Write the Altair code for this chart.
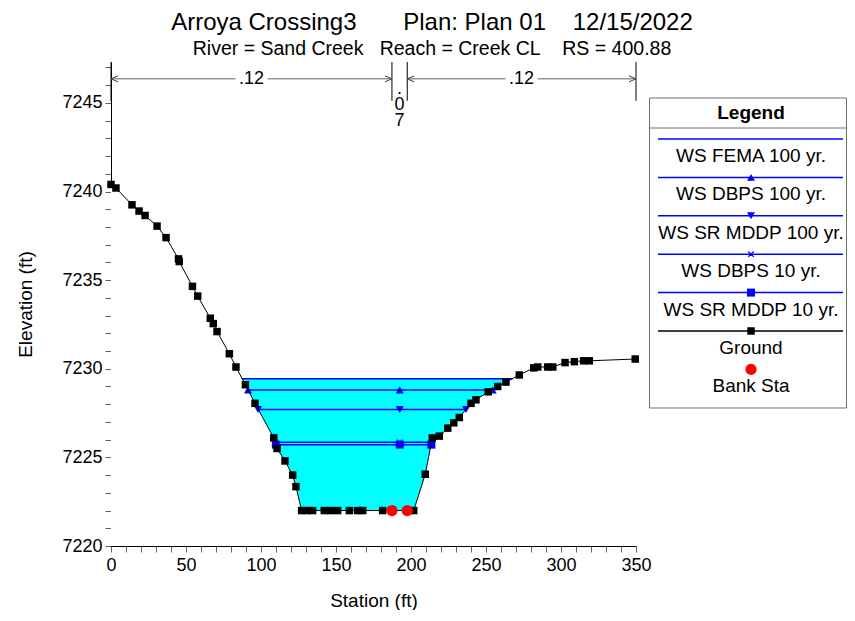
import altair as alt
import pandas as pd

FONT = "Liberation Sans"
NB = "\u00a0"

# ---------------- text ----------------
title_text = "Arroya Crossing3" + NB * 7 + "Plan: Plan 01" + NB * 4 + "12/15/2022"
subtitle_text = "River = Sand Creek" + NB * 3 + "Reach = Creek CL" + NB * 4 + "RS = 400.88"

# ---------------- data ----------------
ground_sta = [0, 3.3, 14.0, 18.7, 22.7, 30.7, 36.7, 45.0, 45.5, 54.3, 57.8, 66.2, 68.2, 70.7,
              78.9, 83.3, 89.6, 96.0, 108.5, 110.7, 116.0, 121.1, 123.3,
              127.1, 130.7, 134.4, 142.2, 146.7, 151.1, 158.9, 164.4, 167.8, 181.1, 187.3, 197.5, 201.8,
              209.5, 214.2, 218.9, 224.5, 228.5, 232.2, 240.0, 243.3, 251.5, 257.8, 263.3, 272.2,
              281.8, 284.5, 291.1, 294.5, 302.7, 308.9, 315.1, 318.9, 349.5]
ground_elev = [7240.4, 7240.2, 7239.25, 7238.9, 7238.65, 7238.05, 7237.4, 7236.2, 7236.05, 7234.65,
               7234.1, 7232.85, 7232.55, 7232.1, 7230.85, 7230.1, 7229.1, 7228.05, 7226.1, 7225.5,
               7224.8, 7224.0, 7223.35,
               7222.0, 7222.0, 7222.0, 7222.0, 7222.0, 7222.0, 7222.0, 7222.0, 7222.0, 7222.0, 7222.0,
               7222.0, 7222.0,
               7224.05, 7226.1, 7226.2, 7226.65, 7226.95, 7227.25, 7228.05, 7228.25, 7228.7, 7229.0,
               7229.25, 7229.65, 7230.05, 7230.1, 7230.1, 7230.1, 7230.35, 7230.4, 7230.45, 7230.45,
               7230.55]

bank_sta = [187.3, 197.5]
bank_elev = [7222.0, 7222.0]

ws_names = ["WS FEMA 100 yr.", "WS DBPS 100 yr.", "WS SR MDDP 100 yr.", "WS DBPS 10 yr.", "WS SR MDDP 10 yr."]
ws_elev = [7229.44, 7228.80, 7227.70, 7225.85, 7225.72]
ws_left = [87.3, 91.3, 98.0, 109.4, 109.9]
ws_right = [267.8, 254.5, 236.7, 213.8, 213.6]
ws_mid = 192.5
ws_marker = ["none", "triangle-up", "triangle-down", "x", "square"]

n_values = [".12", ".07", ".12"]
n_left = [0, 187.3, 197.5]
n_right = [187.3, 197.5, 350]

legend_names = ws_names + ["Ground", "Bank Sta"]
legend_marker = ws_marker + ["gsquare", "circle"]
legend_color = ["#0000FF"] * 5 + ["#000000", "#FF0000"]
legend_line = [True] * 6 + [False]

# ---------------- tables ----------------
ground_df = pd.DataFrame({"sta": ground_sta, "elev": ground_elev})
bank_df = pd.DataFrame({"sta": bank_sta, "elev": bank_elev})
ws_df = pd.DataFrame({"name": ws_names, "elev": ws_elev, "left": ws_left, "right": ws_right,
                      "marker": ws_marker})
rows = []
for n, e, l, r, m in zip(ws_names, ws_elev, ws_left, ws_right, ws_marker):
    if m == "none":
        continue
    for s in (l, ws_mid, r):
        rows.append({"name": n, "sta": s, "elev": e, "marker": m})
ws_pts = pd.DataFrame(rows)

n_df = pd.DataFrame({"label": n_values, "left": n_left, "right": n_right})
n_df["mid"] = (n_df["left"] + n_df["right"]) / 2
n_df["vlabel"] = ["\n".join(v) for v in n_values]
n_wide = n_df[(n_df["right"] - n_df["left"]) > 30]
n_narrow = n_df[(n_df["right"] - n_df["left"]) <= 30]
bounds_df = pd.DataFrame({"sta": n_left + [n_right[-1]]})

leg_df = pd.DataFrame({"name": legend_names, "row": list(range(len(legend_names))),
                       "marker": legend_marker, "color": legend_color, "line": legend_line})

# ---------------- scales / axes ----------------
Y_TOP = 7247.31
xs = alt.Scale(domain=[0, 350], nice=False, zero=False)
ys = alt.Scale(domain=[7220, Y_TOP], nice=False, zero=False)
x_axis = alt.Axis(values=list(range(0, 351, 10)), format="d",
                  labelExpr="datum.value % 50 === 0 ? datum.label : ''",
                  title="Station (ft)", labelOverlap=False, labelFlush=False,
                  tickSize=6, labelPadding=4, titlePadding=17)
y_axis = alt.Axis(values=list(range(7220, 7248)), format="d",
                  labelExpr="datum.value % 5 === 0 ? datum.label : ''",
                  title="Elevation (ft)", labelOverlap=False, labelFlush=False,
                  tickSize=6, labelPadding=3, titlePadding=26)


def X(f):
    return alt.X(f, type="quantitative", scale=xs, axis=x_axis)


def Y(f):
    return alt.Y(f, type="quantitative", scale=ys, axis=y_axis)


def YD(v):
    return alt.Y(datum=v, scale=ys, axis=y_axis)


BLUE = "#0000FF"
GAP = 10.7  # half-gap around the n-value label, in stations
DIM_Y = 7246.36
DIM_BOT = 7245.12

water = alt.Chart(ws_df).transform_filter(
    alt.datum.name == ws_names[0]
).mark_rect(color="#00FFFF").encode(x=X("left"), x2="right", y=Y("elev"), y2=alt.Y2(datum=7220))

under = alt.Chart(ground_df).mark_area(color="white", opacity=1).encode(
    x=X("sta"), y=Y("elev"), y2=alt.Y2(datum=7220))

ws_lines = alt.Chart(ws_df).mark_rule(color=BLUE, strokeWidth=1.5).encode(
    x=X("left"), x2="right", y=Y("elev"))

ws_filled = alt.Chart(ws_pts).transform_filter(alt.datum.marker != "x").mark_point(
    filled=True, color=BLUE, size=64, opacity=1).encode(
    x=X("sta"), y=Y("elev"), shape=alt.Shape("marker:N", scale=None))

ws_cross = alt.Chart(ws_pts).transform_filter(alt.datum.marker == "x").mark_point(
    shape="M-1,-1L1,1M1,-1L-1,1", filled=False, color=BLUE, size=30, strokeWidth=1.2, opacity=1).encode(
    x=X("sta"), y=Y("elev"))

ground_line = alt.Chart(ground_df).mark_line(color="black", strokeWidth=1).encode(x=X("sta"), y=Y("elev"))
ground_pts = alt.Chart(ground_df).mark_point(shape="square", filled=True, color="black", size=56,
                                              opacity=1).encode(x=X("sta"), y=Y("elev"))
banks = alt.Chart(bank_df).mark_circle(color="#FF0000", size=125, opacity=1).encode(x=X("sta"), y=Y("elev"))

# n-value dimension annotation
dim_ticks = alt.Chart(bounds_df).mark_rule(color="black", strokeWidth=1).encode(
    x=X("sta"), y=YD(DIM_BOT), y2=alt.Y2(datum=Y_TOP))
dim_seg_l = alt.Chart(n_wide).transform_calculate(e="datum.mid - %f" % GAP).mark_rule(
    color="#606060", strokeWidth=1).encode(x=X("left"), x2="e:Q", y=YD(DIM_Y))
dim_seg_r = alt.Chart(n_wide).transform_calculate(s="datum.mid + %f" % GAP).mark_rule(
    color="#606060", strokeWidth=1).encode(x=X("s:Q"), x2="right", y=YD(DIM_Y))
CHEV = "M0,0L1.75,-0.75M0,0L1.75,0.75"
dim_head_l = alt.Chart(n_wide).mark_point(shape=CHEV, filled=False, color="#404040", size=64,
                                           strokeWidth=1, opacity=1).encode(x=X("left"), y=YD(DIM_Y))
dim_head_r = alt.Chart(n_wide).mark_point(shape=CHEV, angle=180, filled=False, color="#404040", size=64,
                                           strokeWidth=1, opacity=1).encode(x=X("right"), y=YD(DIM_Y))
dim_text = alt.Chart(n_wide).mark_text(fontSize=18, font=FONT, color="black", baseline="middle").encode(
    x=X("mid"), y=YD(DIM_Y), text="label:N")
dim_vtext = alt.Chart(n_narrow).mark_text(fontSize=18, font=FONT, color="black", baseline="top",
                                          lineBreak="\n", lineHeight=16, dy=1).encode(
    x=X("mid"), y=YD(DIM_Y), text="vlabel:N")

main = alt.layer(water, under, ws_lines, ws_filled, ws_cross, ground_line, ground_pts, banks,
                 dim_ticks, dim_seg_l, dim_seg_r, dim_head_l, dim_head_r, dim_text, dim_vtext
                 ).properties(width=525, height=484)

# ---------------- legend panel ----------------
LW = 198
lx = alt.Scale(domain=[0, LW], nice=False, zero=False)
ly = alt.Scale(domain=[-2.005, 10.599], nice=False, zero=False, reverse=True)
LX_C = 102


def LX(v):
    return alt.X(datum=v, scale=lx, axis=None)


def LY(f):
    return alt.Y(f, type="quantitative", scale=ly, axis=None)


def LYD(v):
    return alt.Y(datum=v, scale=ly, axis=None)


one = pd.DataFrame({"t": ["Legend"]})
box = alt.Chart(one).mark_rect(fill="white", stroke="#707070", strokeWidth=1).encode(
    x=LX(0.5), x2=alt.X2(datum=LW - 0.5), y=LYD(-1.068), y2=alt.Y2(datum=7.005))
sep = alt.Chart(one).mark_rule(color="#707070", strokeWidth=1).encode(
    x=LX(0.5), x2=alt.X2(datum=LW - 0.5), y=LYD(-0.286))
head = alt.Chart(one).mark_text(fontSize=19, font=FONT, fontWeight="bold", color="black").encode(
    x=LX(LX_C), y=LYD(-0.677), text="t:N")
leg_lines = alt.Chart(leg_df).transform_filter(alt.datum.line).mark_rule(strokeWidth=1.5).encode(
    x=LX(9), x2=alt.X2(datum=LW - 4), y=LY("row"), color=alt.Color("color:N", scale=None))
leg_tri = alt.Chart(leg_df).transform_filter(
    alt.FieldOneOfPredicate(field="marker", oneOf=["triangle-up", "triangle-down", "square"])
).mark_point(filled=True, opacity=1, size=64).encode(
    x=LX(LX_C), y=LY("row"), color=alt.Color("color:N", scale=None),
    shape=alt.Shape("marker:N", scale=None))
leg_gsq = alt.Chart(leg_df).transform_filter(alt.datum.marker == "gsquare").mark_point(
    filled=True, opacity=1, size=56, shape="square").encode(
    x=LX(LX_C), y=LY("row"), color=alt.Color("color:N", scale=None))
leg_circ = alt.Chart(leg_df).transform_filter(alt.datum.marker == "circle").mark_circle(
    opacity=1, size=125).encode(
    x=LX(LX_C), y=LY("row"), color=alt.Color("color:N", scale=None))
leg_cross = alt.Chart(leg_df).transform_filter(alt.datum.marker == "x").mark_point(
    shape="M-1,-1L1,1M1,-1L-1,1", filled=False, size=30, strokeWidth=1.2, opacity=1).encode(
    x=LX(LX_C), y=LY("row"), color=alt.Color("color:N", scale=None))
leg_text = alt.Chart(leg_df).transform_calculate(trow="datum.row + 0.443").mark_text(
    fontSize=19, font=FONT, color="black").encode(x=LX(LX_C), y=LY("trow"), text="name:N")

legend = alt.layer(box, sep, head, leg_lines, leg_tri, leg_gsq, leg_circ, leg_cross, leg_text
                   ).properties(width=LW, height=484)

chart = alt.hconcat(main, legend, spacing=13, bounds="flush").properties(
    title=alt.TitleParams(text=title_text, subtitle=subtitle_text, anchor="middle", fontSize=24,
                          subtitleFontSize=19.5, font=FONT, subtitleFont=FONT, fontWeight="normal",
                          color="black", subtitleColor="black", offset=0, subtitlePadding=5),
    padding={"left": 8, "top": 2, "right": 0, "bottom": 0},
).configure_view(stroke=None).configure_axis(
    labelFont=FONT, titleFont=FONT, labelFontSize=18, titleFontSize=19, titleFontWeight="normal",
    labelColor="black", titleColor="black", domainColor="black", tickColor="#606060",
    grid=False, zindex=1
)

chart.save("out.html", embed_options={"renderer": "svg", "actions": False})
